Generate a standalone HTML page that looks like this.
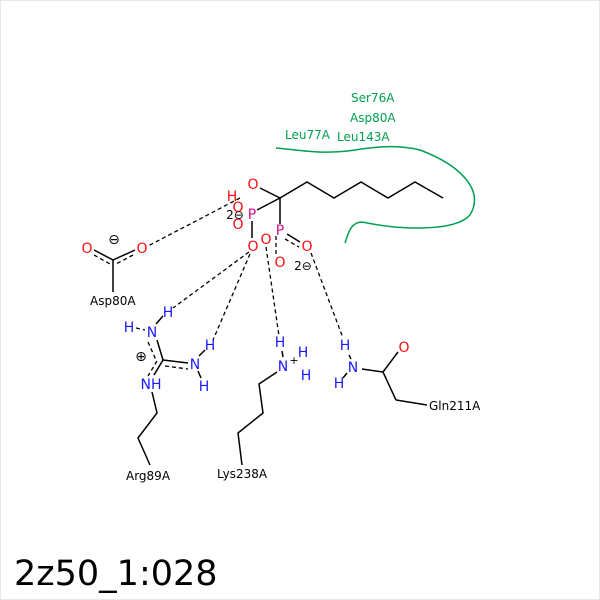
<!DOCTYPE html>
<html><head><style>
html,body{margin:0;padding:0;background:#fff}
svg{display:block}
text{font-family:"DejaVu Sans","Liberation Sans",sans-serif}
</style></head><body>
<svg width="600" height="600" viewBox="0 0 600 600">
<rect x="0.5" y="0.5" width="599" height="599" fill="#fff" stroke="#e6e6e6"/>
<path d="M276,148 C300,150 320,155 355,150 C380,146 400,145 420,150 C460,165 485,190 470,215 C455,232 400,230 362,222 C350,222 348,235 345,243" fill="none" stroke="#00a050" stroke-width="1.5"/>
<g fill="#00a050" font-size="12">
<text x="351" y="102">Ser76A</text>
<text x="350" y="122">Asp80A</text>
<text x="285" y="139">Leu77A</text>
<text x="337" y="141">Leu143A</text>
</g>
<g stroke="#000" stroke-width="1.5" fill="none">
<polyline points="280,198 307,182 334,198 361,182 388,198 415,182 443,198"/>
<line x1="260" y1="188" x2="280" y2="198"/>
<line x1="280" y1="198" x2="257" y2="210"/>
<line x1="280" y1="198" x2="280" y2="224"/>
<line x1="252" y1="221" x2="252" y2="238"/>
<line x1="287" y1="234" x2="300" y2="242"/>
<line x1="113" y1="260" x2="113" y2="292"/>
<line x1="113" y1="260" x2="94" y2="250"/>
<line x1="113" y1="260" x2="135" y2="250"/>
<line x1="157" y1="340" x2="163" y2="360"/>
<line x1="163" y1="360" x2="188" y2="363"/>
<line x1="163" y1="360" x2="154" y2="375"/>
<polyline points="152,392 157,413 138,438 150,465"/>
<polyline points="277,372 259,384 263,413 238,433 242,465"/>
<line x1="362" y1="369" x2="383" y2="372"/>
<line x1="383" y1="372" x2="398" y2="352"/>
<line x1="383" y1="372" x2="396" y2="400"/>
<line x1="396" y1="400" x2="427" y2="405"/>
<line x1="156" y1="324" x2="163" y2="316"/>
<line x1="199" y1="356" x2="205" y2="350"/>
<line x1="198" y1="371" x2="201" y2="378"/>
<line x1="282" y1="351" x2="283" y2="357"/>
<line x1="349" y1="355" x2="351" y2="359"/>
<line x1="347" y1="373" x2="343" y2="378"/>
</g>
<g stroke="#000" stroke-width="1.3" fill="none" stroke-dasharray="4,3">
<line x1="94" y1="255" x2="110" y2="264"/>
<line x1="133" y1="255" x2="116" y2="264"/>
<line x1="157" y1="361" x2="148" y2="376"/>
<line x1="148" y1="342" x2="156" y2="360"/>
<line x1="165" y1="366" x2="188" y2="369"/>
<line x1="276" y1="236" x2="276" y2="255"/>
<line x1="285" y1="239" x2="299" y2="247"/>
<line x1="240" y1="198" x2="148" y2="246"/>
<line x1="249" y1="252" x2="173" y2="308"/>
<line x1="250" y1="254" x2="213" y2="340"/>
<line x1="266" y1="247" x2="279" y2="336"/>
<line x1="311" y1="253" x2="343" y2="338"/>
<line x1="136" y1="328" x2="145" y2="330"/>
</g>
<g font-size="14" text-anchor="middle">
<g fill="#ff0d0d">
<text x="253" y="189">O</text>
<text x="238" y="212">O</text>
<text x="238" y="229">O</text>
<text x="253" y="251">O</text>
<text x="266" y="244">O</text>
<text x="307" y="251">O</text>
<text x="280" y="267">O</text>
<text x="87" y="253">O</text>
<text x="142" y="253">O</text>
<text x="404" y="352">O</text>
<text x="232" y="201">H</text>
</g>
<g fill="#d0108a">
<text x="252" y="219">P</text>
<text x="280" y="235">P</text>
</g>
<g fill="#1a1aff">
<text x="152" y="337">N</text>
<text x="168" y="317">H</text>
<text x="129" y="332">H</text>
<text x="195" y="369">N</text>
<text x="210" y="350">H</text>
<text x="204" y="391">H</text>
<text x="151" y="389">NH</text>
<text x="283" y="371">N</text>
<text x="280" y="347">H</text>
<text x="303" y="357">H</text>
<text x="306" y="380">H</text>
<text x="353" y="372">N</text>
<text x="345" y="350">H</text>
<text x="339" y="388">H</text>
</g>
<g fill="#000">
<text x="114" y="244">⊖</text>
<text x="141" y="361">⊕</text>
<text x="294" y="364" font-size="11">+</text>
<text x="235" y="219" font-size="12">2⊖</text>
<text x="303" y="270" font-size="12">2⊖</text>
</g>
</g>
<g font-size="12" fill="#000">
<text x="90" y="305">Asp80A</text>
<text x="126" y="480">Arg89A</text>
<text x="217" y="478">Lys238A</text>
<text x="429" y="410">Gln211A</text>
</g>
<text x="14" y="585" font-size="35" fill="#000">2z50_1:028</text>
</svg>
</body></html>
